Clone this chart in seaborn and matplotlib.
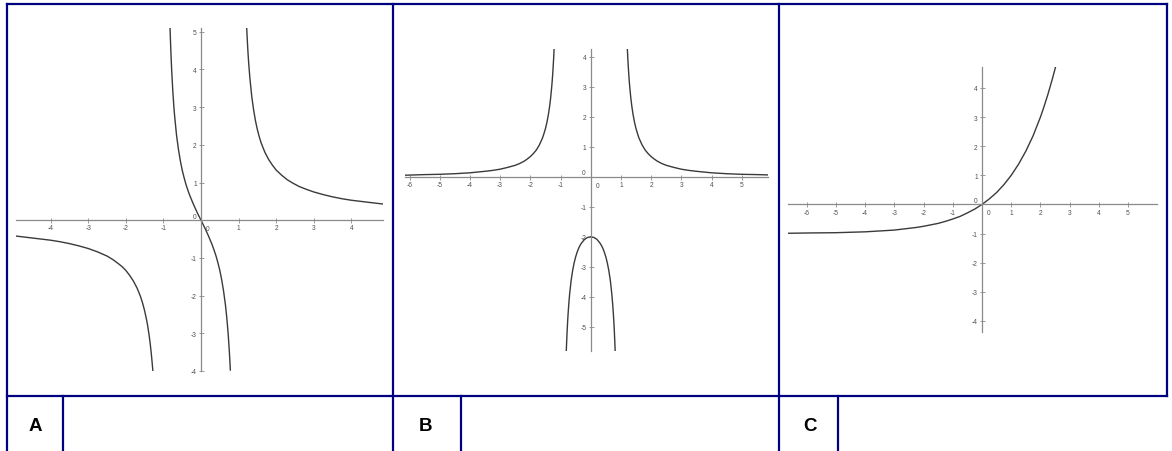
import matplotlib
matplotlib.use("Agg")
import matplotlib.pyplot as plt
from matplotlib.lines import Line2D
import seaborn as sns
import pandas as pd

# ---------------- data ----------------
# Panel A
a1_x = [-4.92, -4.5, -4.25, -4.0, -3.75, -3.5, -3.25, -3.0, -2.75, -2.5, -2.35, -2.2, -2.1, -2.0,
        -1.9, -1.8, -1.7, -1.65, -1.6, -1.55, -1.5, -1.45, -1.42, -1.38, -1.35, -1.32, -1.3, -1.28]
a1_y = [-0.42, -0.47, -0.50, -0.53, -0.57, -0.62, -0.68, -0.75, -0.84, -0.95, -1.04, -1.15, -1.23, -1.33,
        -1.46, -1.61, -1.80, -1.92, -2.05, -2.21, -2.40, -2.63, -2.79, -3.05, -3.28, -3.56, -3.77, -4.0]
a2_x = [-0.825, -0.81, -0.8, -0.78, -0.75, -0.72, -0.7, -0.65, -0.6, -0.55, -0.5, -0.45, -0.4, -0.35,
        -0.3, -0.2, -0.1, 0.0, 0.1, 0.2, 0.3, 0.35, 0.4, 0.45, 0.5, 0.55, 0.6, 0.65, 0.68, 0.7, 0.72,
        0.74, 0.755, 0.77, 0.78]
a2_y = [5.15, 4.71, 4.44, 3.98, 3.43, 2.99, 2.75, 2.25, 1.88, 1.58, 1.33, 1.13, 0.95, 0.80,
        0.66, 0.42, 0.20, 0.0, -0.20, -0.42, -0.66, -0.80, -0.95, -1.13, -1.33, -1.58, -1.88, -2.25,
        -2.53, -2.75, -2.99, -3.27, -3.51, -3.78, -3.98]
a3_x = [1.215, 1.23, 1.25, 1.27, 1.3, 1.35, 1.4, 1.45, 1.5, 1.55, 1.6, 1.7, 1.8, 1.9, 2.0, 2.15,
        2.3, 2.45, 2.6, 2.8, 3.0, 3.25, 3.5, 3.75, 4.0, 4.25, 4.5, 4.84]
a3_y = [5.10, 4.80, 4.44, 4.14, 3.77, 3.28, 2.92, 2.63, 2.40, 2.21, 2.05, 1.80, 1.61, 1.46, 1.33, 1.19,
        1.07, 0.98, 0.90, 0.82, 0.75, 0.68, 0.62, 0.57, 0.53, 0.50, 0.47, 0.43]

# Panel B
b1_x = [-6.15, -5.5, -5.0, -4.5, -4.0, -3.5, -3.25, -3.0, -2.75, -2.5, -2.35, -2.2, -2.1, -2.0,
        -1.9, -1.8, -1.7, -1.6, -1.55, -1.5, -1.45, -1.4, -1.36, -1.33, -1.3, -1.28, -1.26, -1.25,
        -1.23, -1.22, -1.21]
b1_y = [0.05, 0.07, 0.08, 0.10, 0.13, 0.18, 0.21, 0.25, 0.31, 0.38, 0.44, 0.52, 0.59, 0.67,
        0.77, 0.89, 1.06, 1.28, 1.43, 1.60, 1.81, 2.08, 2.35, 2.60, 2.90, 3.13, 3.40, 3.56,
        3.90, 4.10, 4.31]
b2_x = [-0.81, -0.8, -0.78, -0.765, -0.75, -0.725, -0.7, -0.65, -0.6, -0.55, -0.5, -0.45, -0.4,
        -0.35, -0.3, -0.2, -0.1, 0.0, 0.1, 0.2, 0.3, 0.35, 0.4, 0.45, 0.5, 0.55, 0.6, 0.65, 0.7,
        0.725, 0.75, 0.765, 0.78, 0.8, 0.81]
b2_y = [-5.82, -5.56, -5.11, -4.82, -4.57, -4.22, -3.92, -3.46, -3.13, -2.87, -2.67, -2.51, -2.38,
        -2.28, -2.20, -2.08, -2.02, -2.0, -2.02, -2.08, -2.20, -2.28, -2.38, -2.51, -2.67, -2.87, -3.13,
        -3.46, -3.92, -4.22, -4.57, -4.82, -5.11, -5.56, -5.82]
b3_x = [1.21, 1.22, 1.23, 1.25, 1.26, 1.28, 1.3, 1.33, 1.36, 1.4, 1.45, 1.5, 1.55, 1.6, 1.7, 1.8,
        1.9, 2.0, 2.1, 2.2, 2.35, 2.5, 2.75, 3.0, 3.25, 3.5, 4.0, 4.5, 5.0, 5.5, 5.87]
b3_y = [4.31, 4.10, 3.90, 3.56, 3.40, 3.13, 2.90, 2.60, 2.35, 2.08, 1.81, 1.60, 1.43, 1.28, 1.06, 0.89,
        0.77, 0.67, 0.59, 0.52, 0.44, 0.38, 0.31, 0.25, 0.21, 0.18, 0.13, 0.10, 0.08, 0.07, 0.06]

# Panel C
c1_x = [-6.64, -6.0, -5.0, -4.0, -3.5, -3.0, -2.5, -2.25, -2.0, -1.75, -1.5, -1.25, -1.0, -0.75,
        -0.5, -0.25, 0.0, 0.25, 0.5, 0.75, 1.0, 1.25, 1.5, 1.75, 2.0, 2.1, 2.25, 2.4, 2.52]
c1_y = [-0.99, -0.98, -0.97, -0.94, -0.91, -0.88, -0.82, -0.79, -0.75, -0.70, -0.65, -0.58, -0.50, -0.41,
        -0.29, -0.16, 0.0, 0.19, 0.41, 0.68, 1.0, 1.38, 1.83, 2.36, 3.0, 3.29, 3.76, 4.28, 4.73]

panel_labels = ["A", "B", "C"]

# ---------------- figure ----------------
sns.set_theme(style="white")
plt.rcParams["font.family"] = ["Liberation Sans", "DejaVu Sans"]

W, H = 1172, 452
fig = plt.figure(figsize=(W / 100, H / 100), dpi=100)
fig.patch.set_facecolor("white")


def px_axes(x0, y0, x1, y1):
    return fig.add_axes([x0 / W, 1 - y1 / H, (x1 - x0) / W, (y1 - y0) / H])


CURVE = "#3a3a3a"
AXC = "#8a8a8a"
TXT = "#505050"


def style_axes(ax, xlim, ylim, xticks, yticks):
    ax.set_xlim(*xlim)
    ax.set_ylim(*ylim)
    ax.set_facecolor("none")
    for s in ["top", "right"]:
        ax.spines[s].set_visible(False)
    for s in ["left", "bottom"]:
        ax.spines[s].set_position("zero")
        ax.spines[s].set_color(AXC)
        ax.spines[s].set_linewidth(0.9)
    ax.set_xticks(xticks)
    ax.set_yticks(yticks)
    ax.set_xticklabels([str(t) for t in xticks])
    ax.set_yticklabels([str(t) for t in yticks])
    ax.tick_params(axis="both", direction="inout", length=3.6, width=0.6, color=AXC,
                   labelsize=4.8, labelcolor=TXT, pad=1.2)
    ax.tick_params(axis="x", bottom=True)
    ax.tick_params(axis="y", left=True)
    ax.set_xlabel("")
    ax.set_ylabel("")
    ax.annotate("0", xy=(0, 0), xytext=(4.8, -6), textcoords="offset points",
                ha="center", va="center", fontsize=4.8, color=TXT)
    ax.annotate("0", xy=(0, 0), xytext=(-4.8, 2.7), textcoords="offset points",
                ha="center", va="center", fontsize=4.8, color=TXT)


def draw_branches(ax, branches):
    rows = []
    for i, (xs, ys) in enumerate(branches):
        for j, (xv, yv) in enumerate(zip(xs, ys)):
            rows.append({"x": xv, "y": yv, "branch": i, "order": j})
    df = pd.DataFrame(rows)
    sns.lineplot(data=df, x="x", y="y", units="branch", estimator=None, sort=False,
                 color=CURVE, linewidth=1.0, ax=ax, legend=False)


# Panel A
axA = px_axes(16, 29, 383, 372)
draw_branches(axA, [(a1_x, a1_y), (a2_x, a2_y), (a3_x, a3_y)])
style_axes(axA, (-4.92, 4.84), (-4.0, 5.1), [-4, -3, -2, -1, 1, 2, 3, 4], [-4, -3, -2, -1, 1, 2, 3, 4, 5])

# Panel B
axB = px_axes(405, 50, 768, 352)
draw_branches(axB, [(b1_x, b1_y), (b2_x, b2_y), (b3_x, b3_y)])
style_axes(axB, (-6.15, 5.87), (-5.8, 4.25), [-6, -5, -4, -3, -2, -1, 1, 2, 3, 4, 5], [-5, -4, -3, -2, -1, 1, 2, 3, 4])

# Panel C
axC = px_axes(788, 68, 1157, 333)
draw_branches(axC, [(c1_x, c1_y)])
style_axes(axC, (-6.64, 5.99), (-4.38, 4.72), [-6, -5, -4, -3, -2, -1, 1, 2, 3, 4, 5], [-4, -3, -2, -1, 1, 2, 3, 4])

# ---------------- table borders ----------------
NAVY = "#000080"
LW = 1.6


def hline(y, x0, x1):
    fig.add_artist(Line2D([x0 / W, x1 / W], [1 - y / H, 1 - y / H], color=NAVY, lw=LW,
                          solid_capstyle="projecting"))


def vline(x, y0, y1):
    fig.add_artist(Line2D([x / W, x / W], [1 - y0 / H, 1 - y1 / H], color=NAVY, lw=LW,
                          solid_capstyle="projecting"))


hline(5, 7, 1167)
hline(397, 7, 1167)
vline(7, 5, 452)
vline(393, 5, 452)
vline(779, 5, 452)
vline(1167, 5, 397)
vline(63, 397, 452)
vline(461, 397, 452)
vline(838, 397, 452)

label_x = [35, 426, 810]
for lab, lx in zip(panel_labels, label_x):
    fig.text(lx / W, 1 - 427 / H, lab, ha="center", va="center", fontsize=13.5,
             fontweight="bold", color="black",
             family=["Liberation Sans Narrow", "Liberation Sans", "DejaVu Sans"])

fig.savefig("out.png", dpi=100, facecolor="white")
